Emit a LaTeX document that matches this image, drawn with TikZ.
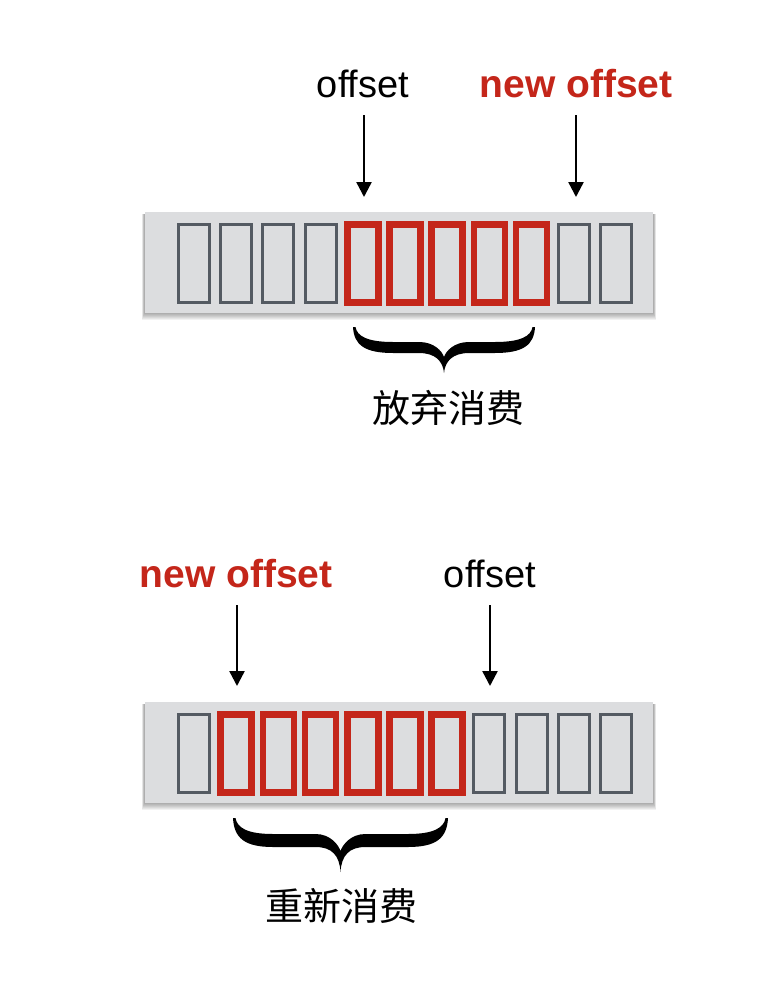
\documentclass[tikz,border=0pt]{standalone}
\usepackage{fontspec}
\setmainfont{Liberation Sans}
\newfontfamily\cjkfont{Noto Sans CJK SC}
\usetikzlibrary{arrows.meta}
\definecolor{cred}{HTML}{C4261A}
\definecolor{cgray}{HTML}{545A62}
\definecolor{barfill}{HTML}{DCDDDF}
\tikzset{
  barbox/.style={fill=barfill, draw=none, minimum width=508pt, minimum height=101pt, inner sep=0pt},
  gcell/.style={draw=cgray, line width=3pt, minimum width=31pt, minimum height=78pt, inner sep=0pt},
  rcell/.style={draw=cred, line width=6.5pt, minimum width=31pt, minimum height=78pt, inner sep=0pt},
  lbl/.style={font=\fontsize{38}{42}\selectfont, anchor=base, inner sep=0pt},
  newlbl/.style={font=\fontsize{39}{42}\selectfont\bfseries, text=cred, anchor=base, inner sep=0pt},
  ptr/.style={line width=2.4pt, -{Triangle[width=15pt,length=15pt]}},
  cjklbl/.style={font=\cjkfont\fontsize{38}{42}\selectfont, inner sep=0pt},
}
% L R T lower-offset thickness tip-offset
\newcommand{\drawbrace}[6]{%
  \pgfmathsetmacro\bL{#1}\pgfmathsetmacro\bR{#2}\pgfmathsetmacro\bT{#3}%
  \pgfmathsetmacro\bM{(#1+#2)/2}%
  \pgfmathsetmacro\bLo{#3+#4}\pgfmathsetmacro\bUp{#3+#4-#5}%
  \pgfmathsetmacro\bN{#3+#4+4}\pgfmathsetmacro\bP{#3+#6}%
  \pgfmathsetmacro\bLt{#3+0.7*#4}\pgfmathsetmacro\bUt{#3+0.6*(#4-#5)}%
  \fill[black] (\bL,\bT) .. controls (\bL+1,\bLt) and (\bL+12,\bLo) .. (\bL+40,\bLo)
    -- (\bM-25,\bLo) .. controls (\bM-9,\bLo) and (\bM-1,\bLo+8) .. (\bM,\bP)
    .. controls (\bM+1,\bLo+8) and (\bM+9,\bLo) .. (\bM+25,\bLo)
    -- (\bR-40,\bLo) .. controls (\bR-12,\bLo) and (\bR-1,\bLt) .. (\bR,\bT)
    -- (\bR-2.5,\bT) .. controls (\bR-4,\bUt) and (\bR-14,\bUp) .. (\bR-40,\bUp)
    -- (\bM+25,\bUp) .. controls (\bM+10,\bUp) and (\bM+2,\bN-6) .. (\bM,\bN)
    .. controls (\bM-2,\bN-6) and (\bM-10,\bUp) .. (\bM-25,\bUp)
    -- (\bL+40,\bUp) .. controls (\bL+14,\bUp) and (\bL+4,\bUt) .. (\bL+2.5,\bT) -- cycle;
}
\begin{document}
\begin{tikzpicture}[x=1pt,y=-1pt]
\useasboundingbox (0,0) rectangle (776,982);
\fill[white] (0,0) rectangle (776,982);

% ---------- top ----------
\foreach \k in {1,...,8} \fill[black, opacity=0.05] (145-0.4*\k,214) rectangle (653+0.4*\k,312+\k);
\node[barbox] (topbar) at (399,262.5) {};
\foreach \i in {0,1,2,3,9,10} \node[gcell] (t\i) at (194+42.2*\i,263.5) {};
\foreach \i in {4,...,8} \node[rcell] (t\i) at (194+42.2*\i,263.5) {};

\node[lbl] (toff) at (363,97) {offset};
\node[newlbl] (tnew) at (576,97) {new offset};
\coordinate (a1s) at (364,115); \coordinate (a1e) at (364,197);
\coordinate (a2s) at (576,115); \coordinate (a2e) at (576,197);
\draw[ptr] (a1s) -- (a1e);
\draw[ptr] (a2s) -- (a2e);

\drawbrace{353}{535}{327}{26}{11}{46}
\node[cjklbl] (tlab) at (448,408) {放弃消费};

% ---------- bottom ----------
\foreach \k in {1,...,8} \fill[black, opacity=0.05] (145-0.4*\k,704) rectangle (653+0.4*\k,802+\k);
\node[barbox] (botbar) at (399,752.5) {};
\foreach \i in {0,7,8,9,10} \node[gcell] (b\i) at (194+42.2*\i,753.5) {};
\foreach \i in {1,...,6} \node[rcell] (b\i) at (194+42.2*\i,753.5) {};

\node[newlbl] (bnew) at (236,587) {new offset};
\node[lbl] (boff) at (490,587) {offset};
\coordinate (a3s) at (237,605); \coordinate (a3e) at (237,686);
\coordinate (a4s) at (490,605); \coordinate (a4e) at (490,686);
\draw[ptr] (a3s) -- (a3e);
\draw[ptr] (a4s) -- (a4e);

\drawbrace{233}{448}{818}{29}{13}{54}
\node[cjklbl] (blab) at (341,906) {重新消费};
\end{tikzpicture}
\end{document}
